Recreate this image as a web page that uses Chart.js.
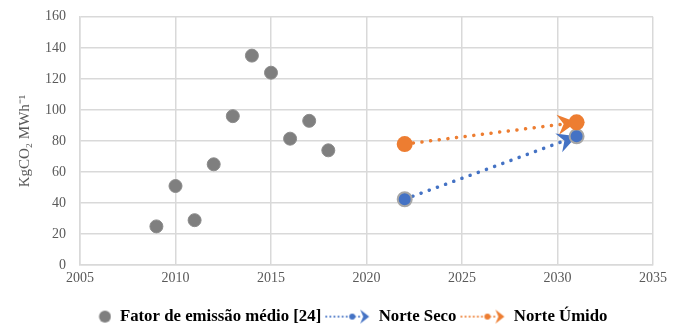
<!DOCTYPE html>
<html>
<head>
<meta charset="utf-8">
<script src="https://cdn.jsdelivr.net/npm/chart.js@4/dist/chart.umd.min.js"></script>
<style>
  html, body { margin: 0; padding: 0; background: #fff; }
  #wrap { width: 680px; height: 328px; }
</style>
</head>
<body>
<div id="wrap"><canvas id="chart" width="680" height="328"></canvas></div>
<script>
// data
const anosFator = [2009, 2010, 2011, 2012, 2013, 2014, 2015, 2016, 2017, 2018];
const fatorMedio = [25, 51, 29, 65, 96, 135, 124, 81.5, 93, 74];
const anosNorte = [2022, 2031];
const norteSeco = [42.5, 83];
const norteUmido = [78, 92];

const GRAY = '#7f7f7f';
const BLUE = '#4472c4';
const ORANGE = '#ed7d31';

function pts(xs, ys) {
    return xs.map((x, i) => ({ x: x, y: ys[i] }));
}

// legend icons
function circleIcon() {
    const c = document.createElement('canvas');
    c.width = 46; c.height = 16;
    const ctx = c.getContext('2d');
    ctx.fillStyle = GRAY;
    ctx.beginPath();
    ctx.arc(39.5, 8, 6, 0, Math.PI * 2);
    ctx.fill();
    return c;
}

function arrowIcon(color) {
    const c = document.createElement('canvas');
    c.width = 46; c.height = 16;
    const ctx = c.getContext('2d');
    ctx.strokeStyle = color;
    ctx.lineWidth = 2;
    ctx.lineCap = 'round';
    ctx.setLineDash([0.1, 4]);
    ctx.beginPath();
    ctx.moveTo(2, 8);
    ctx.lineTo(38, 8);
    ctx.stroke();
    ctx.fillStyle = color;
    ctx.beginPath();
    ctx.arc(28, 8, 3, 0, Math.PI * 2);
    ctx.fill();
    ctx.beginPath();
    ctx.moveTo(45, 8);
    ctx.lineTo(36, 1);
    ctx.lineTo(39, 8);
    ctx.lineTo(36, 15);
    ctx.closePath();
    ctx.fill();
    return c;
}

// arrow heads at the end of the Norte lines
const arrowPlugin = {
    id: 'arrows',
    afterLayout(chart) {
        // nudge the legend to where the original sits
        const lg = chart.legend;
        lg.left += 10; lg.right += 10;
        lg.top += 7; lg.bottom += 7;
    },
    beforeDatasetsDraw(chart) {
        const ctx = chart.ctx;
        const xs = chart.scales.x, ys = chart.scales.y;
        [[norteSeco, BLUE], [norteUmido, ORANGE]].forEach(([vals, color]) => {
            const x0 = xs.getPixelForValue(anosNorte[0]), y0 = ys.getPixelForValue(vals[0]);
            const x1 = xs.getPixelForValue(anosNorte[1]), y1 = ys.getPixelForValue(vals[1]);
            const a = Math.atan2(y1 - y0, x1 - x0);
            ctx.save();
            ctx.translate(x1, y1);
            ctx.rotate(a);
            ctx.fillStyle = color;
            ctx.beginPath();
            ctx.moveTo(0, 0);
            ctx.lineTo(-19, -10);
            ctx.lineTo(-13, 0);
            ctx.lineTo(-19, 10);
            ctx.closePath();
            ctx.fill();
            ctx.restore();
        });
    }
};

const serif = '"Liberation Serif", "Times New Roman", serif';

new Chart(document.getElementById('chart').getContext('2d'), {
    type: 'scatter',
    data: {
        datasets: [
            {
                label: 'Fator de emissão médio [24]',
                data: pts(anosFator, fatorMedio),
                backgroundColor: GRAY,
                borderColor: '#8c8c8c',
                borderWidth: 1,
                pointRadius: 6.5,
                pointStyle: 'circle',
                order: 3
            },
            {
                label: 'Norte Seco',
                data: pts(anosNorte, norteSeco),
                showLine: true,
                borderColor: BLUE,
                borderWidth: 3.5,
                borderDash: [0.1, 8.6],
                borderCapStyle: 'round',
                pointBackgroundColor: BLUE,
                pointBorderColor: '#a6a6a6',
                pointBorderWidth: 2,
                pointRadius: 7,
                order: 2
            },
            {
                label: 'Norte Úmido',
                data: pts(anosNorte, norteUmido),
                showLine: true,
                borderColor: ORANGE,
                borderWidth: 3.5,
                borderDash: [0.1, 8.6],
                borderCapStyle: 'round',
                pointBackgroundColor: ORANGE,
                pointBorderColor: ORANGE,
                pointBorderWidth: 0,
                pointRadius: 8,
                order: 1
            }
        ]
    },
    options: {
        responsive: false,
        animation: false,
        layout: { padding: { left: 0, right: 27, top: 0, bottom: 0 } },
        scales: {
            x: {
                type: 'linear',
                min: 2005,
                max: 2035,
                ticks: {
                    stepSize: 5,
                    color: '#595959',
                    font: { family: serif, size: 14 },
                    padding: 5,
                    maxRotation: 0,
                    callback: v => String(v)
                },
                grid: { color: '#d9d9d9', lineWidth: 1.5, drawTicks: false },
                border: { color: '#d9d9d9', width: 1.5 },
                afterFit: s => { s.height = 33; }
            },
            y: {
                min: 0,
                max: 160,
                ticks: {
                    stepSize: 20,
                    color: '#595959',
                    font: { family: serif, size: 14, lineHeight: 0.4 },
                    padding: 14
                },
                grid: { color: '#d9d9d9', lineWidth: 1.5, drawTicks: false },
                border: { color: '#d9d9d9', width: 1.5 },
                title: {
                    display: true,
                    text: 'KgCO₂ MWh⁻¹',
                    color: '#595959',
                    font: { family: serif, size: 15 },
                    padding: { top: 16, bottom: 0 }
                },
                afterFit: s => { s.width = 80; }
            }
        },
        plugins: {
            legend: {
                position: 'bottom',
                labels: {
                    usePointStyle: true,
                    pointStyleWidth: 46,
                    boxHeight: 16,
                    padding: 3,
                    color: '#000',
                    font: { family: serif, size: 16.8, weight: 'bold' },
                    generateLabels: chart => chart.data.datasets.map((ds, i) => ({
                        text: ds.label,
                        datasetIndex: i,
                        pointStyle: i === 0 ? circleIcon() : arrowIcon(i === 1 ? BLUE : ORANGE),
                        fillStyle: 'transparent',
                        strokeStyle: 'transparent',
                        lineWidth: 0,
                        hidden: false
                    }))
                }
            },
            tooltip: { enabled: false }
        }
    },
    plugins: [arrowPlugin]
});
</script>
</body>
</html>
